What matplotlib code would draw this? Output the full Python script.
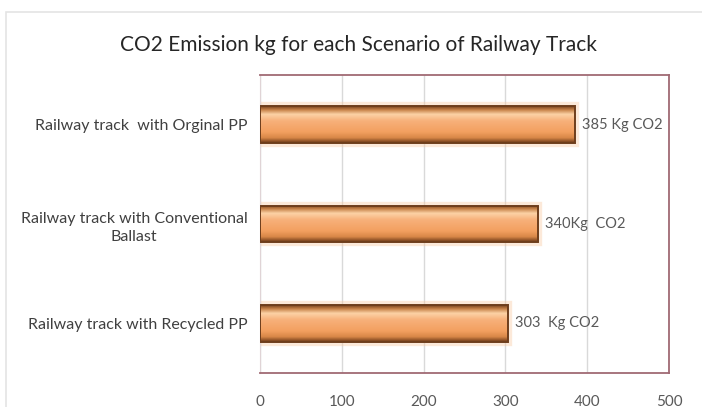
import matplotlib.pyplot as plt
from matplotlib.colors import LinearSegmentedColormap
from matplotlib.patches import Rectangle
import numpy as np

# data
scenarios = ['Railway track with Recycled PP',
             'Railway track with Conventional\nBallast',
             'Railway track  with Orginal PP']
emissions = [303, 340, 385]
value_labels = ['303  Kg CO2', '340Kg  CO2', '385 Kg CO2']
x_ticks = [0, 100, 200, 300, 400, 500]

plt.rcParams['font.family'] = ['Lato', 'DejaVu Sans']

fig = plt.figure(figsize=(7.02, 4.07), dpi=100)
ax = fig.add_axes([260 / 702, 1 - 373 / 407, 409 / 702, 298 / 407])

# light outer chart border (left/top)
fig.patches.append(Rectangle((6 / 702, -0.1), 1.2, 1 - 12 / 407 + 0.1,
                             transform=fig.transFigure, fill=False,
                             edgecolor='#e4e4e4', lw=1.2))

bar_cmap = LinearSegmentedColormap.from_list('bar', [
    (0.0, '#7a4420'), (0.10, '#c8844a'), (0.22, '#fcd2a6'),
    (0.40, '#f7b07a'), (0.70, '#f3a060'), (0.86, '#d98848'),
    (1.0, '#6e3a18')])
grad = np.linspace(0, 1, 100).reshape(-1, 1)

h = 0.37
ypos = np.arange(len(scenarios))
for y, v in zip(ypos, emissions):
    rect = Rectangle((0, y - h / 2), v, h, facecolor='none',
                     edgecolor='#6e3e1c', lw=1.4, zorder=4)
    ax.add_patch(rect)
    # soft glow behind the bar
    ax.add_patch(Rectangle((0, y - h / 2), v, h, facecolor='#f6b078',
                           edgecolor='#f9c9a0', lw=6, alpha=0.4, zorder=2))
    im = ax.imshow(grad, cmap=bar_cmap, aspect='auto',
                   extent=(0, v, y - h / 2, y + h / 2), zorder=3)
    im.set_clip_path(rect)

for y, v, lab in zip(ypos, emissions, value_labels):
    ax.annotate(lab, (v, y), xytext=(5, 0), textcoords='offset points',
                va='center', ha='left', fontsize=10.5, color='#595959')

ax.set_xlim(0, 500)
ax.set_ylim(-0.5, 2.5)
ax.set_xticks(x_ticks)
ax.set_yticks(ypos)
ax.set_yticklabels(scenarios, ha='right', multialignment='center',
                   linespacing=1.45)
ax.tick_params(axis='y', length=0, pad=9, labelsize=11.5, labelcolor='#404040')
ax.tick_params(axis='x', length=0, pad=15.5, labelsize=11, labelcolor='#595959')

ax.grid(axis='x', color='#d9d9d9', lw=1)
ax.set_axisbelow(True)
for s in ['top', 'right', 'bottom']:
    ax.spines[s].set_color('#a06a74')
    ax.spines[s].set_linewidth(1.3)
ax.spines['left'].set_color('#e0d4d6')

fig.text(358 / 702, 1 - 45 / 407, 'CO2 Emission kg for each Scenario of Railway Track',
         ha='center', va='center', fontsize=15, color='#262626')

plt.savefig('out.png', dpi=100)
